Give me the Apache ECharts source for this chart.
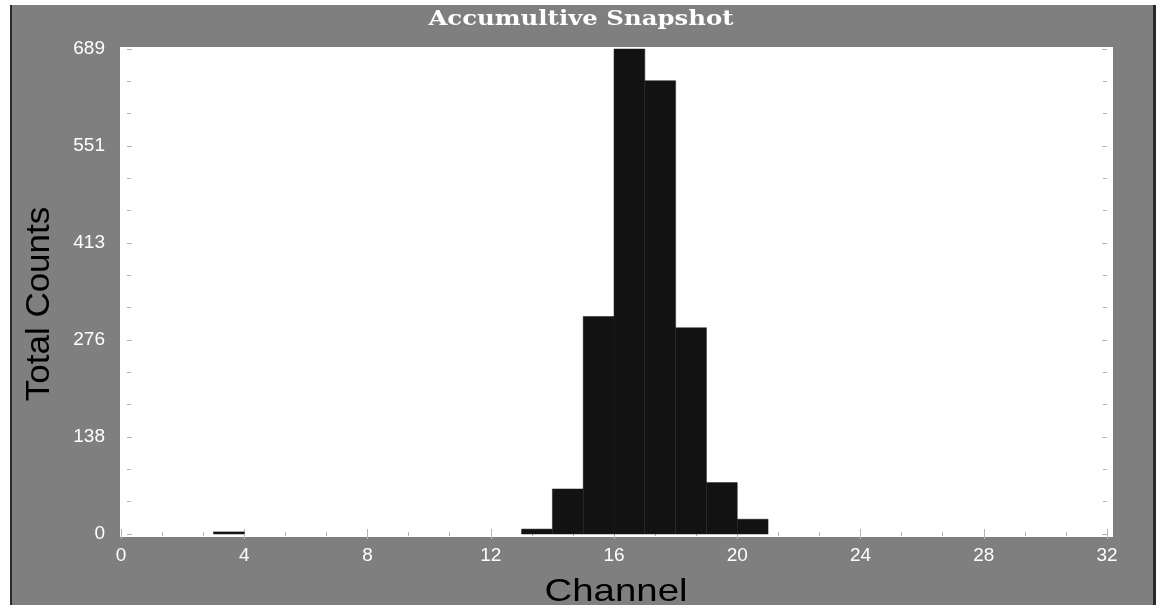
<!DOCTYPE html>
<html>
<head>
<meta charset="utf-8">
<script src="https://cdn.jsdelivr.net/npm/echarts@6/dist/echarts.min.js"></script>
<style>
  html, body { margin: 0; padding: 0; background: #ffffff; }
  #chart { width: 1156px; height: 605px; }
</style>
</head>
<body>
<div id="chart"></div>
<script>
// Histogram bins: each bin spans [channelStart, channelStart + 1)
const channelStart = [3, 13, 14, 15, 16, 17, 18, 19, 20];
const totalCounts = [3, 7, 64, 309, 689, 644, 293, 73, 21];

// Axis ranges and tick labels
const channelMin = 0;
const channelMax = 32;
const channelStep = 4;
const countMax = 689;
const countTickLabels = ['0', '138', '276', '413', '551', '689'];

const titleText = 'Accumultive Snapshot';
const xName = 'Channel';
const yName = 'Total Counts';

const binData = channelStart.map((c, i) => [c, c + 1, totalCounts[i]]);

const chart = echarts.init(document.getElementById('chart'), null, { renderer: 'canvas' });

const tickColor = '#b4b4b4';
const sansFont = 'Arial, "Liberation Sans", sans-serif';
const labelStyle = { color: '#ffffff', fontFamily: sansFont, fontSize: 19 };

function xAxisCfg(pos, showLabels) {
  return {
    type: 'value', position: pos, min: channelMin, max: channelMax, interval: channelStep,
    axisLine: { show: false },
    axisTick: { show: true, inside: true, length: 5, lineStyle: { color: tickColor, width: 1 } },
    minorTick: { show: true, splitNumber: 3, length: 2, lineStyle: { color: tickColor, width: 1 } },
    splitLine: { show: false },
    axisLabel: showLabels ? Object.assign({ margin: 12 }, labelStyle) : { show: false }
  };
}

// withLabels: draw the count labels; withTicks: draw the inward tick marks
function yAxisCfg(pos, withLabels, withTicks, offset) {
  return {
    type: 'value', position: pos, offset: offset || 0,
    min: 0, max: countMax, interval: countMax / 5,
    axisLine: { show: false },
    axisTick: { show: withTicks, inside: true, length: 5, lineStyle: { color: tickColor, width: 1 } },
    minorTick: { show: withTicks, splitNumber: 3, length: 4, lineStyle: { color: tickColor, width: 1 } },
    splitLine: { show: false },
    axisLabel: withLabels ? Object.assign({
      margin: 16,
      formatter: (v) => countTickLabels[Math.round(v / (countMax / 5))]
    }, labelStyle) : { show: false }
  };
}

const option = {
  backgroundColor: '#ffffff',
  animation: false,
  graphic: [
    // gray panel with dark side borders
    { type: 'rect', z: -10, shape: { x: 10, y: 5, width: 1146, height: 600 }, style: { fill: '#7f7f7f' } },
    { type: 'rect', z: -9, shape: { x: 10, y: 5, width: 2, height: 600 }, style: { fill: '#2a2a2a' } },
    { type: 'rect', z: -9, shape: { x: 1153, y: 5, width: 3, height: 600 }, style: { fill: '#2a2a2a' } },
    // white plotting surface
    { type: 'rect', z: -8, shape: { x: 120, y: 47, width: 993, height: 490 }, style: { fill: '#ffffff' } },
    // title
    {
      type: 'text', z: 10, x: 581, y: 20, scaleX: 1.22,
      style: {
        text: titleText, fill: '#ffffff', align: 'center', verticalAlign: 'middle',
        font: 'bold 20px "DejaVu Serif", serif'
      }
    },
    // axis names
    {
      type: 'text', z: 10, x: 616, y: 592, scaleX: 1.2,
      style: { text: xName, fill: '#000000', align: 'center', verticalAlign: 'middle', font: '32px ' + sansFont }
    },
    {
      type: 'text', z: 10, x: 40, y: 304, rotation: Math.PI / 2, scaleX: 1.06,
      style: { text: yName, fill: '#000000', align: 'center', verticalAlign: 'middle', font: '33px ' + sansFont }
    }
  ],
  grid: { left: 121, right: 49, top: 49, bottom: 71 },
  xAxis: [xAxisCfg('bottom', true), xAxisCfg('top', false)],
  yAxis: [
    yAxisCfg('left', true, false, 0),
    yAxisCfg('left', false, true, -6),
    yAxisCfg('right', false, true, 0)
  ],
  series: [{
    type: 'custom',
    xAxisIndex: 0, yAxisIndex: 0,
    data: binData,
    encode: { x: [0, 1], y: 2 },
    renderItem: function (params, api) {
      const p0 = api.coord([api.value(0), api.value(2)]);
      const p1 = api.coord([api.value(1), 0]);
      return {
        type: 'rect',
        shape: { x: p0[0], y: p0[1], width: p1[0] - p0[0], height: p1[1] - p0[1] },
        style: { fill: '#121212', stroke: '#1e1e1e', lineWidth: 0.5 }
      };
    }
  }]
};

chart.setOption(option);
</script>
</body>
</html>
